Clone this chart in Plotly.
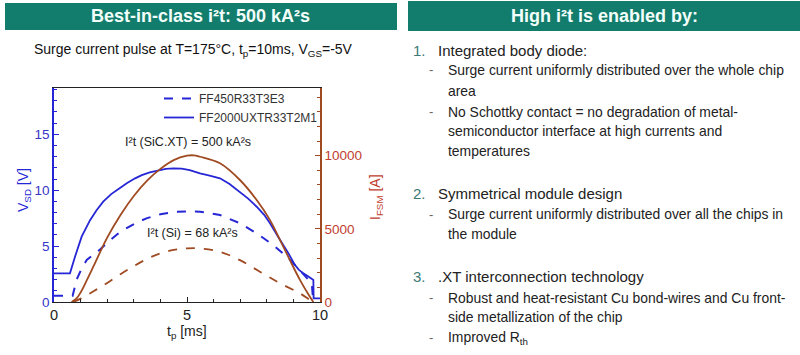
import plotly.graph_objects as go

# ---------------- data ----------------
# FF2000UXTR33T2M1 (SiC .XT) forward voltage V_SD [V] vs time [ms]
t_sic_v = [0, 0.6, 0.79, 1.04, 1.35, 1.6, 1.85, 2.15, 2.48, 2.75, 3.05, 3.3, 3.6, 3.9, 4.2, 4.5, 4.8, 5.1,
           5.49, 5.85, 6.24, 6.6, 6.99, 7.3, 7.62, 7.9, 8.12, 8.3, 8.5, 8.81, 9.06, 9.2, 9.37, 9.55, 9.75, 9.76, 10.0]
v_sic = [2.56, 2.56, 4.05, 5.84, 7.3, 8.2, 8.97, 9.65, 10.2, 10.65, 11.06, 11.35, 11.6, 11.78, 11.9, 11.95, 11.93, 11.8,
         11.5, 11.3, 11.06, 10.55, 9.87, 9.25, 8.52, 7.8, 7.04, 6.3, 5.55, 4.36, 3.3, 2.9, 2.56, 2.3, 1.97, 0.33, 0.33]

# FF450R33T3E3 (Si) forward voltage V_SD [V]
t_si_v = [0, 0.7, 0.85, 1.04, 1.23, 1.5, 1.73, 2.1, 2.4, 2.73, 3.1, 3.5, 4.0, 4.5, 5.0, 5.49, 6.24, 6.99,
          7.62, 8.24, 8.75, 9.12, 9.5, 9.69, 9.72, 9.75]
v_si = [0.55, 0.55, 2.0, 3.0, 3.76, 4.25, 4.7, 5.5, 6.1, 6.6, 7.1, 7.5, 7.85, 8.05, 8.1, 8.08, 7.78, 7.04,
        6.14, 5.1, 4.05, 3.16, 2.12, 1.67, 0.8, 0.0]

# SiC surge current I_FSM [A]
t_sic_i = [0.66, 0.85, 1.0, 1.25, 1.5, 2.0, 2.5, 3.0, 3.5, 4.0, 4.5, 5.0, 5.25, 5.49, 6.24, 6.99, 7.62,
           8.12, 8.5, 8.87, 9.25, 9.62, 9.75]
i_sic = [0, 250, 650, 1550, 2500, 4400, 5950, 7250, 8300, 9100, 9700, 10000, 10030, 9930, 9480, 8340, 6970,
         5600, 4230, 2860, 1500, 360, 0]

# Si surge current I_FSM [A]
t_si_i = [0.73, 1.0, 1.5, 2.0, 2.5, 3.0, 3.5, 4.0, 4.5, 5.0, 5.49, 6.24, 6.99, 7.74, 8.5, 9.25, 9.62, 9.8]
i_si = [0, 230, 750, 1300, 1900, 2450, 2950, 3330, 3560, 3660, 3660, 3430, 2860, 2070, 1275, 590, 140, 0]

legend_names = ["FF450R33T3E3", "FF2000UXTR33T2M1"]
x_ticks = [0, 5, 10]
y_ticks = [0, 5, 10, 15]
y2_ticks = [0, 5000, 10000]

# ---------------- style ----------------
FONT = "Liberation Sans, Arial, sans-serif"
BLUE = "#2626d6"
BROWN = "#a04a22"
RED_LBL = "#c0402e"
TEAL = "#137d6d"

W, H = 800, 355
def px(x):
    return x / W
def py(y):
    return 1 - y / H

fig = go.Figure()

fig.add_trace(go.Scatter(x=t_si_v, y=v_si, mode="lines", name=legend_names[0],
                         line=dict(color=BLUE, width=2, dash="dash")))
fig.add_trace(go.Scatter(x=t_sic_v, y=v_sic, mode="lines", name=legend_names[1],
                         line=dict(color=BLUE, width=1.8)))
fig.add_trace(go.Scatter(x=t_si_i, y=i_si, mode="lines", yaxis="y2", showlegend=False,
                         line=dict(color=BROWN, width=1.8, dash="dash", shape="spline", smoothing=1.0)))
fig.add_trace(go.Scatter(x=t_sic_i, y=i_sic, mode="lines", yaxis="y2", showlegend=False,
                         line=dict(color=BROWN, width=1.8, shape="spline", smoothing=1.0)))

x0, x1 = px(54), px(320)
y0, y1 = py(302), py(88)

fig.update_layout(
    width=W, height=H,
    margin=dict(l=0, r=0, t=0, b=0, autoexpand=False),
    paper_bgcolor="white", plot_bgcolor="white",
    font=dict(family=FONT, color="#222"),
    xaxis=dict(domain=[x0, x1], range=[0, 10], tickvals=x_ticks, ticks="inside", ticklen=5,
               tickcolor="#222", showline=True, linecolor="#222", linewidth=1, mirror=True,
               showgrid=False, zeroline=False, tickfont=dict(size=14.5, color="#222"), automargin=False,
               minor=dict(dtick=1, ticks="inside", ticklen=3, tickcolor="#222")),
    yaxis=dict(domain=[y0, y1], range=[0, 19.14], tickvals=y_ticks, ticks="inside", ticklen=5,
               tickcolor=BLUE, showline=True, linecolor=BLUE, linewidth=1.5, automargin=False,
               showgrid=False, zeroline=False, tickfont=dict(size=13.5, color="#3535c8"),
               minor=dict(dtick=1, ticks="inside", ticklen=3, tickcolor=BLUE)),
    yaxis2=dict(overlaying="y", side="right", anchor="x", range=[0, 14630], tickvals=y2_ticks,
                ticktext=[str(v) for v in y2_ticks], automargin=False,
                ticks="inside", ticklen=5, tickcolor=BROWN, showline=True, linecolor=BROWN,
                linewidth=1.5, showgrid=False, zeroline=False,
                tickfont=dict(size=13.5, color=RED_LBL),
                minor=dict(dtick=1000, ticks="inside", ticklen=3, tickcolor=BROWN)),
    legend=dict(x=px(159), y=py(84), xanchor="left", yanchor="top", bgcolor="rgba(0,0,0,0)",
                font=dict(size=12, color="#333"), tracegroupgap=0),
    showlegend=True,
)

shapes = [
    dict(type="rect", xref="paper", yref="paper", x0=px(5), x1=px(397), y0=py(30), y1=py(3),
         fillcolor=TEAL, line=dict(width=0), layer="below"),
    dict(type="rect", xref="paper", yref="paper", x0=px(408), x1=px(800), y0=py(31), y1=py(1),
         fillcolor=TEAL, line=dict(width=0), layer="below"),
]
fig.update_layout(shapes=shapes)

ann = []
def txt(x, y, s, size, color="#222", anchor="left", bold=False, angle=0):
    ann.append(dict(x=px(x), y=py(y), xref="paper", yref="paper", text=("<b>%s</b>" % s) if bold else s,
                    showarrow=False, xanchor=anchor, yanchor="middle", textangle=angle,
                    font=dict(size=size, color=color, family=FONT)))

# headers
txt(200, 16, "Best-in-class i²t: 500 kA²s", 18, "#f2fffa", "center", True)
txt(604, 16, "High i²t is enabled by:", 18, "#f2fffa", "center", True)
# subtitle
txt(193, 50, "Surge current pulse at T=175°C, t<sub>p</sub>=10ms, V<sub>GS</sub>=-5V", 14, "#111", "center")
# chart annotations
txt(188, 142, "I²t (SiC.XT) = 500 kA²s", 12.5, "#222", "center")
txt(192, 233, "I²t (Si) = 68 kA²s", 12.5, "#222", "center")
# axis titles
txt(187, 332, "t<sub>p</sub> [ms]", 14, "#222", "center")
txt(24, 190, "V<sub>SD</sub> [V]", 14, BLUE, "center", angle=-90)
txt(376, 197, "I<sub>FSM</sub> [A]", 14, RED_LBL, "center", angle=-90)

# right panel text
NUM = "#3d7a76"
DASH = "#666"
items = [
    (411, 436, 50, "1.", "Integrated body diode:"),
    (411, 436, 193, "2.", "Symmetrical module design"),
    (411, 436, 276, "3.", ".XT interconnection technology"),
]
for xn, xt, y, n, s in items:
    txt(xn, y, n, 15, NUM)
    txt(xt, y, s, 15, "#222")

subs = [
    (70, True, "Surge current uniformly distributed over the whole chip"),
    (91, False, "area"),
    (111.5, True, "No Schottky contact = no degradation of metal-"),
    (131, False, "semiconductor interface at high currents and"),
    (150.5, False, "temperatures"),
    (214, True, "Surge current uniformly distributed over all the chips in"),
    (233.5, False, "the module"),
    (297.5, True, "Robust and heat-resistant Cu bond-wires and Cu front-"),
    (316.5, False, "side metallization of the chip"),
    (337.5, True, "Improved R<sub>th</sub>"),
]
for y, dash, s in subs:
    if dash:
        txt(427, y, "-", 13, DASH)
    txt(446, y, s, 13.9, "#222")

fig.update_layout(annotations=ann)

fig.write_html("out.html", config={"displayModeBar": False},
               post_script="document.body.style.margin='0';")
